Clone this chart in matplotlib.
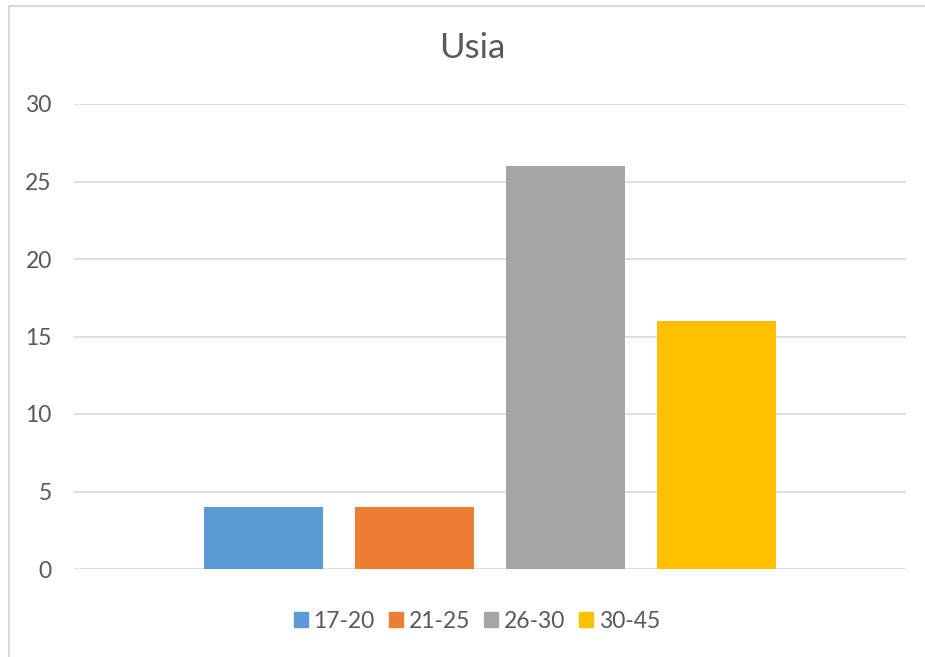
import matplotlib.pyplot as plt
import numpy as np
from matplotlib.lines import Line2D

plt.rcParams['font.family'] = ['Lato', 'DejaVu Sans']

groups = ["17-20", "21-25", "26-30", "30-45"]
counts = [4, 4, 26, 16]
colors = ["#5B9BD5", "#ED7D31", "#A5A5A5", "#FFC000"]
yticks = [0, 5, 10, 15, 20, 25, 30]

text_color = "#595959"
grid_color = "#D9D9D9"

fig = plt.figure(figsize=(9.25, 6.57), dpi=100)
ax = fig.add_axes([74 / 925, 1 - 569 / 657, 832 / 925, 465 / 657])

x = np.arange(len(groups))
bars = ax.bar(x, counts, width=0.788, color=colors, zorder=3)

ax.set_xlim(-1.255, 4.255)
ax.set_ylim(0, 30)
ax.set_yticks(yticks)
ax.set_xticks([])
ax.yaxis.grid(True, color=grid_color, linewidth=1.2, zorder=0)
for s in ax.spines.values():
    s.set_visible(False)
ax.tick_params(axis="y", length=0, pad=16, labelsize=16.5, labelcolor=text_color)

fig.text(472 / 925, 1 - 48 / 657, "Usia", ha="center", va="center",
         fontsize=25, color=text_color)

handles = [plt.Rectangle((0, 0), 1, 1, color=c) for c in colors]
fig.legend(handles, groups, loc="center", bbox_to_anchor=(477 / 925, 1 - 621 / 657),
           ncol=4, frameon=False, fontsize=16.5, labelcolor=text_color,
           handlelength=0.6, handleheight=0.6, handletextpad=0.25, columnspacing=0.62)

# chart border (top and left visible in the cropped screenshot)
fig.add_artist(Line2D([9 / 925, 1], [1 - 6 / 657] * 2, color="#D9D9D9", lw=1.5,
                      transform=fig.transFigure))
fig.add_artist(Line2D([9 / 925] * 2, [0, 1 - 6 / 657], color="#D9D9D9", lw=1.5,
                      transform=fig.transFigure))

fig.savefig("out.png", dpi=100, facecolor="white")
